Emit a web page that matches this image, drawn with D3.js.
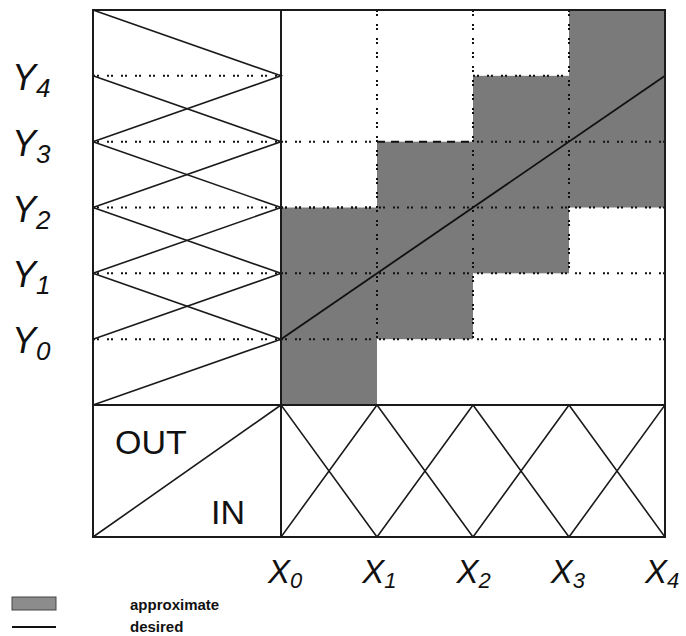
<!DOCTYPE html>
<html>
<head>
<meta charset="utf-8">
<script src="https://cdn.jsdelivr.net/npm/d3@7"></script>
<style>
  body { margin: 0; background: #fff; }
  svg { display: block; }
</style>
</head>
<body>
<script>
// Fuzzy partitions of input X and output Y (level indices)
const xLevels = [0, 1, 2, 3, 4];
const yLevels = [0, 1, 2, 3, 4];
const xSubs = ["0", "1", "2", "3", "4"];
const ySubs = ["0", "1", "2", "3", "4"];

// Approximate mapping: for the input interval [X_i, X_i+1] the output band
// spans from bandLow[i] to bandHigh[i] (level -1 = bottom edge, 5 = top edge)
const bandLow  = [-1, 0, 1, 2];
const bandHigh = [ 2, 3, 4, 5];

// Desired mapping: straight line from (X0, Y0) to (X4, Y4)
const desired = [[0, 0], [4, 4]];

const W = 686, H = 636;
const svg = d3.select("body").append("svg").attr("width", W).attr("height", H);

// Scales
const x = d3.scaleLinear().domain([0, 4]).range([281, 665]);
const y = d3.scaleLinear().domain([-1, 5]).range([405, 10]);
const muLeft = d3.scaleLinear().domain([0, 1]).range([93, 281]);     // output membership
const muBottom = d3.scaleLinear().domain([0, 1]).range([537, 405]);  // input membership
const xLabelPos = d3.scaleLinear().domain([0, 4]).range([268, 645]);

const edgeL = muLeft(0), edgeM = muLeft(1), edgeR = x(4);
const edgeT = y(5), edgeMY = y(-1), edgeB = muBottom(0);

const ink = "#1a1a1a";
const dash = "2,2,2,8";

// Approximate region
svg.append("g").selectAll("rect")
  .data(bandLow.map((lo, i) => ({ i, lo, hi: bandHigh[i] })))
  .join("rect")
  .attr("x", d => x(d.i))
  .attr("width", d => x(d.i + 1) - x(d.i))
  .attr("y", d => y(d.hi))
  .attr("height", d => y(d.lo) - y(d.hi))
  .attr("fill", "#7a7a7a");

// Dotted grid
const grid = svg.append("g")
  .attr("stroke", "#111").attr("stroke-width", 2)
  .attr("stroke-dasharray", dash).attr("fill", "none");

// level lines through the membership panel
grid.selectAll(".hl").data(yLevels).join("line").attr("class", "hl")
  .attr("x1", edgeL).attr("x2", edgeM)
  .attr("y1", d => y(d)).attr("y2", d => y(d));

// level lines across the rule area (all but the top level)
grid.selectAll(".hr").data(yLevels.slice(0, -1)).join("line").attr("class", "hr")
  .attr("x1", edgeM).attr("x2", edgeR)
  .attr("y1", d => y(d)).attr("y2", d => y(d));

// top edges of the bands
grid.selectAll(".bt").data(bandHigh.map((h, i) => ({ i, h })).filter(d => d.h < 5))
  .join("line").attr("class", "bt")
  .attr("x1", d => x(d.i)).attr("x2", d => x(d.i + 1))
  .attr("y1", d => y(d.h)).attr("y2", d => y(d.h));

// vertical input lines from the top down to the band bottom of the left column
grid.selectAll(".v").data(xLevels.slice(1, -1)).join("line").attr("class", "v")
  .attr("x1", d => x(d)).attr("x2", d => x(d))
  .attr("y1", edgeT)
  .attr("y2", d => y(Math.max(bandLow[d - 1], 0)));

// Output membership triangles (left panel)
const tri = svg.append("g").attr("stroke", ink).attr("stroke-width", 1.6).attr("fill", "none");
tri.selectAll(".my").data(yLevels).join("path").attr("class", "my")
  .attr("d", k => d3.line()([
    [muLeft(0), y(k - 1)], [muLeft(1), y(k)], [muLeft(0), y(k + 1)]
  ]));

// Input membership triangles (bottom panel), clipped to their cell
svg.append("clipPath").attr("id", "inCell")
  .append("rect").attr("x", edgeM).attr("y", edgeMY)
  .attr("width", edgeR - edgeM).attr("height", edgeB - edgeMY);
tri.append("g").attr("clip-path", "url(#inCell)")
  .selectAll("path").data(xLevels).join("path")
  .attr("d", k => d3.line()([
    [x(k - 1), muBottom(0)], [x(k), muBottom(1)], [x(k + 1), muBottom(0)]
  ]));

// OUT / IN corner diagonal
tri.append("line")
  .attr("x1", edgeL).attr("y1", edgeB).attr("x2", edgeM).attr("y2", edgeMY);

// Desired line
svg.append("path")
  .attr("d", d3.line().x(d => x(d[0])).y(d => y(d[1]))(desired))
  .attr("stroke", "#111").attr("stroke-width", 1.8).attr("fill", "none");

// Frame and dividers
const frame = svg.append("g").attr("stroke", ink).attr("fill", "none");
frame.append("rect").attr("x", edgeL).attr("y", edgeT)
  .attr("width", edgeR - edgeL).attr("height", edgeB - edgeT).attr("stroke-width", 2);
frame.append("line").attr("x1", edgeM).attr("x2", edgeM).attr("y1", edgeT).attr("y2", edgeB)
  .attr("stroke-width", 2);
frame.append("line").attr("x1", edgeL).attr("x2", edgeR).attr("y1", edgeMY).attr("y2", edgeMY)
  .attr("stroke-width", 2);

// Axis labels: letter plus lowered subscript
const font = "'Liberation Sans', Arial, sans-serif";
const yl = svg.append("g").attr("font-family", font).attr("font-style", "italic").attr("fill", "#111");
yl.selectAll("text").data(yLevels).join("text")
  .attr("x", 12).attr("y", d => y(d) + 14).attr("font-size", 36)
  .each(function (d) {
    const t = d3.select(this);
    t.append("tspan").text("Y");
    t.append("tspan").attr("font-size", 26).attr("dy", 7).text(ySubs[d]);
  });

const xl = svg.append("g").attr("font-family", font).attr("font-style", "italic").attr("fill", "#111");
xl.selectAll("text").data(xLevels).join("text")
  .attr("x", d => xLabelPos(d)).attr("y", 583).attr("font-size", 33)
  .each(function (d) {
    const t = d3.select(this);
    t.append("tspan").text("X");
    t.append("tspan").attr("font-size", 22).attr("dy", 5).text(xSubs[d]);
  });

// OUT / IN captions
const cap = svg.append("g").attr("font-family", font).attr("font-size", 34).attr("fill", "#111");
cap.append("text").attr("x", 115).attr("y", 454).text("OUT");
cap.append("text").attr("x", 211).attr("y", 524).text("IN");

// Legend
const lg = svg.append("g").attr("font-family", font).attr("font-weight", "bold")
  .attr("font-size", 15).attr("fill", "#111");
lg.append("rect").attr("x", 12).attr("y", 597).attr("width", 44).attr("height", 13)
  .attr("fill", "#8c8c8c").attr("stroke", "#444").attr("stroke-width", 1);
lg.append("line").attr("x1", 12).attr("x2", 56).attr("y1", 627).attr("y2", 627)
  .attr("stroke", "#111").attr("stroke-width", 2);
lg.append("text").attr("x", 130).attr("y", 610).text("approximate");
lg.append("text").attr("x", 130).attr("y", 632).text("desired");
</script>
</body>
</html>
